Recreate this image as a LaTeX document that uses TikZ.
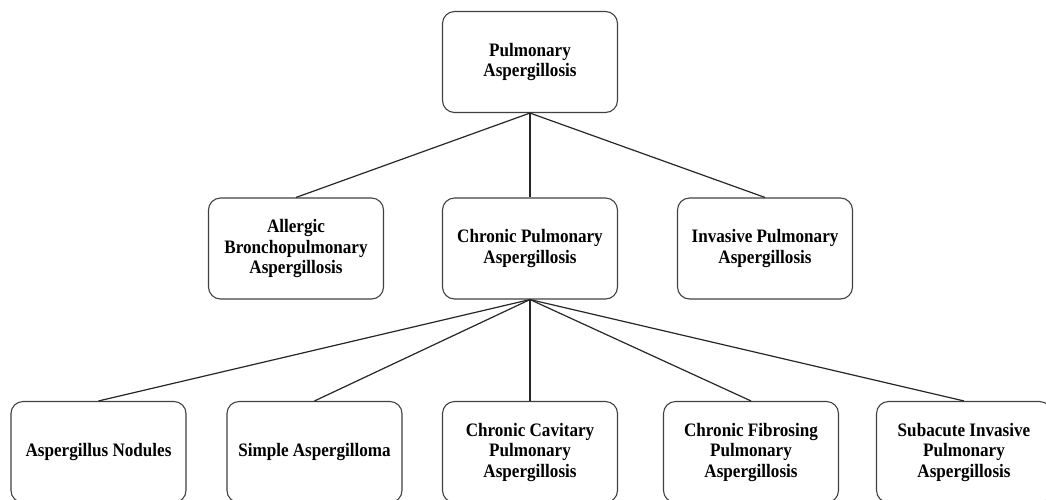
\documentclass[tikz,border=0pt]{standalone}
\usepackage{fontspec}
\setmainfont{Liberation Serif}[FakeStretch=0.9]
\begin{document}
\begin{tikzpicture}[x=1pt,y=-1pt,
  box/.style={draw=black!75, line width=1.1pt, rounded corners=12pt, minimum width=175pt, minimum height=101pt, inner sep=0pt, align=center, font=\bfseries\fontsize{19}{20.5}\selectfont},
  link/.style={draw=black!85, line width=1.2pt}]
\useasboundingbox (0,0) rectangle (1046,499);
\clip (0,0) rectangle (1046,499);
\node[box] (pa) at (530,62) {Pulmonary\\Aspergillosis};
\node[box] (abpa) at (296,248.5) {Allergic\\Bronchopulmonary\\Aspergillosis};
\node[box] (cpa) at (530,248.5) {Chronic Pulmonary\\Aspergillosis};
\node[box] (ipa) at (765,248.5) {Invasive Pulmonary\\Aspergillosis};
\node[box] (an) at (98.5,452) {Aspergillus Nodules};
\node[box] (sa) at (314.5,452) {Simple Aspergilloma};
\node[box] (ccpa) at (530,452) {Chronic Cavitary\\Pulmonary\\Aspergillosis};
\node[box] (cfpa) at (751,452) {Chronic Fibrosing\\Pulmonary\\Aspergillosis};
\node[box] (sia) at (964,452) {Subacute Invasive\\Pulmonary\\Aspergillosis};
\draw[link] (pa.south) -- (abpa.north);
\draw[link] (pa.south) -- (cpa.north);
\draw[link] (pa.south) -- (ipa.north);
\draw[link] (cpa.south) -- (an.north);
\draw[link] (cpa.south) -- (sa.north);
\draw[link] (cpa.south) -- (ccpa.north);
\draw[link] (cpa.south) -- (cfpa.north);
\draw[link] (cpa.south) -- (sia.north);
\end{tikzpicture}
\end{document}
